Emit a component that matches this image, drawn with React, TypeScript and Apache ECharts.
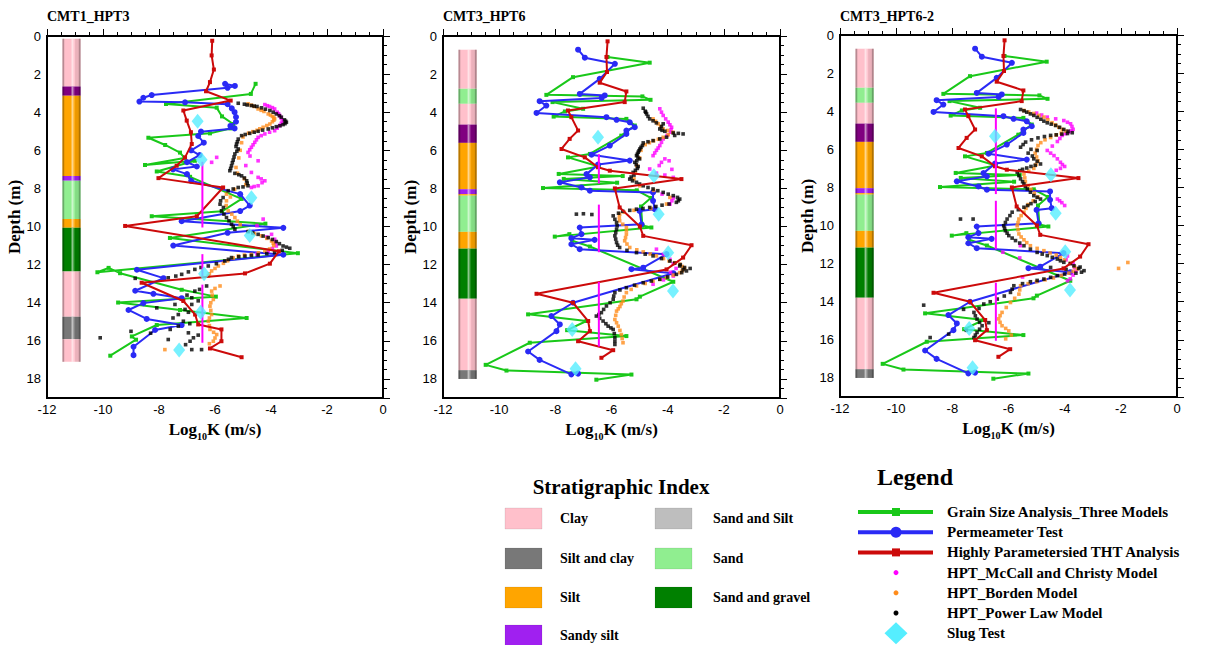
import React, { useEffect, useRef } from 'react';
import * as echarts from 'echarts';

// ---------- DATA ----------
const xTicks = [-12, -10, -8, -6, -4, -2, 0];
const depthTicks = [0, 2, 4, 6, 8, 10, 12, 14, 16, 18];
const panelTitles = ['CMT1_HPT3', 'CMT3_HPT6', 'CMT3_HPT6-2'];

// Stratigraphy: [top, bottom, layer]
const strat1 = [
  [0.14, 2.65, 'Clay'], [2.65, 3.13, 'Purple'], [3.13, 7.35, 'Silt'], [7.35, 7.6, 'Sandy silt'],
  [7.6, 9.6, 'Sand'], [9.6, 10.07, 'Silt'], [10.07, 12.36, 'Sand and gravel'], [12.36, 14.73, 'Clay'],
  [14.73, 15.91, 'Silt and clay'], [15.91, 17.1, 'Clay'],
];
const strat6 = [
  [0.72, 2.77, 'Clay'], [2.77, 3.56, 'Sand'], [3.56, 4.65, 'Clay'], [4.65, 5.61, 'Purple'],
  [5.61, 8.04, 'Silt'], [8.04, 8.3, 'Sandy silt'], [8.3, 8.38, 'Silt'], [8.38, 10.28, 'Sand'],
  [10.28, 11.16, 'Silt'], [11.16, 13.79, 'Sand and gravel'], [13.79, 17.54, 'Clay'], [17.54, 18.0, 'Silt and clay'],
];
const columnX = [-11.45, -10.8];

// Panel 1 (CMT1_HPT3)
const grain1 = [[-4.55,2.51],[-4.72,3.04],[-7.75,3.57],[-5.94,3.76],[-5.75,4.22],[-5.35,4.62],[-5.45,4.85],[-6.18,5.11],[-8.38,5.34],[-7.78,5.72],[-7.25,6.12],[-7.09,6.40],[-8.50,6.77],[-6.72,6.55],[-8.08,7.11],[-6.89,7.39],[-5.05,8.55],[-5.75,9.20],[-8.26,9.46],[-4.20,9.85],[-7.61,10.60],[-3.04,11.40],[-10.20,12.40],[-9.80,12.17],[-9.39,12.45],[-7.19,13.32],[-5.97,13.68],[-9.46,13.99],[-7.25,14.38],[-4.87,14.80],[-8.08,15.17],[-8.97,15.77],[-8.82,15.94],[-9.74,16.78]];
const perm1 = [[-5.64,2.51],[-5.29,2.62],[-5.55,2.72],[-8.26,3.10],[-8.56,3.24],[-8.70,3.44],[-7.07,3.48],[-5.55,3.58],[-5.40,3.80],[-5.30,4.00],[-5.25,4.25],[-5.25,4.50],[-5.45,4.72],[-5.30,4.85],[-6.50,5.02],[-6.60,5.25],[-6.40,5.60],[-6.85,6.00],[-6.55,6.25],[-7.00,6.62],[-6.65,6.85],[-7.50,7.00],[-7.00,7.25],[-6.85,7.60],[-5.10,8.30],[-4.76,8.90],[-5.10,9.19],[-7.19,9.72],[-3.56,10.07],[-5.55,10.33],[-7.49,11.00],[-3.56,11.48],[-8.79,12.27],[-7.84,12.71],[-8.85,13.37],[-8.20,13.53],[-7.19,13.76],[-8.56,14.02],[-9.09,14.38],[-8.44,14.85],[-7.19,15.17],[-8.14,15.43],[-8.91,16.31],[-8.91,16.75]];
const tht1 = [[-6.10,0.25],[-6.12,1.02],[-6.04,1.76],[-6.18,2.42],[-6.32,2.90],[-5.44,3.39],[-7.13,3.91],[-7.01,4.44],[-6.86,5.05],[-6.83,5.67],[-7.07,6.37],[-7.37,6.81],[-8.02,7.46],[-5.71,7.95],[-6.65,9.46],[-9.21,9.97],[-3.72,11.30],[-4.04,11.95],[-4.93,12.46],[-8.62,12.95],[-7.13,13.91],[-6.71,14.62],[-6.60,15.14],[-5.77,15.40],[-5.77,16.02],[-6.18,16.40],[-5.05,16.86]];
const mc1 = [[-4.22,3.60],[-4.13,3.66],[-4.05,3.70],[-3.95,3.76],[-3.87,3.83],[-3.78,4.00],[-3.73,4.08],[-3.69,4.18],[-3.64,4.30],[-3.60,4.45],[-3.63,4.58],[-3.69,4.70],[-3.78,4.84],[-3.87,4.97],[-4.05,5.05],[-4.22,5.14],[-4.35,5.23],[-4.46,5.32],[-4.52,5.45],[-4.58,5.58],[-4.64,5.71],[-4.70,5.84],[-4.76,5.97],[-4.82,6.11],[-4.75,6.30],[-5.94,6.37],[-6.12,6.63],[-4.46,6.55],[-4.90,6.80],[-4.70,7.16],[-4.46,7.42],[-4.35,7.50],[-4.22,7.60],[-4.32,7.70],[-4.46,7.86],[-4.60,7.90],[-4.70,7.95],[-4.28,9.61],[-4.50,9.95],[-3.98,10.41],[-4.15,10.55],[-3.87,10.67],[-3.84,10.85],[-3.81,11.02],[-3.95,11.15],[-4.10,11.30],[-4.50,11.45]];
const bd1 = [[-4.82,3.56],[-4.70,3.63],[-4.60,3.70],[-4.46,3.83],[-4.35,3.90],[-4.25,3.96],[-4.10,4.09],[-4.02,4.15],[-3.95,4.22],[-3.90,4.28],[-3.87,4.35],[-3.90,4.42],[-3.95,4.50],[-4.04,4.62],[-4.15,4.70],[-4.28,4.79],[-4.40,4.87],[-4.50,4.95],[-4.65,5.02],[-4.80,5.10],[-5.00,5.30],[-5.05,5.60],[-5.10,6.00],[-5.15,6.40],[-5.25,6.90],[-5.20,7.20],[-4.95,7.50],[-4.90,7.80],[-5.30,8.05],[-5.59,8.30],[-5.45,8.45],[-5.59,8.65],[-5.60,8.90],[-5.53,9.18],[-5.40,9.35],[-5.29,9.53],[-5.20,9.72],[-5.10,9.90],[-4.80,10.25],[-4.60,10.38],[-4.34,10.49],[-4.15,10.62],[-3.98,10.76],[-3.92,10.88],[-3.90,11.00],[-4.05,11.18],[-4.22,11.28],[-4.45,11.38],[-4.70,11.46],[-4.95,11.50],[-5.17,11.55],[-5.35,11.65],[-5.55,11.80],[-5.70,11.93],[-5.88,12.07],[-6.00,12.20],[-6.12,12.33],[-6.20,12.48],[-6.24,12.60],[-5.82,13.12],[-6.00,13.25],[-6.12,13.39],[-6.10,13.60],[-6.06,13.83],[-6.15,14.00],[-6.18,14.18],[-6.15,14.40],[-6.12,14.62],[-6.20,14.80],[-6.24,14.97],[-6.20,15.20],[-6.18,15.40],[-6.05,15.55],[-5.94,15.67],[-6.00,15.85],[-6.06,16.02],[-6.20,16.15],[-7.79,16.46]];
const pl1 = [[-5.17,3.53],[-4.95,3.58],[-4.85,3.62],[-4.70,3.65],[-4.60,3.68],[-4.50,3.70],[-4.34,3.77],[-4.20,3.84],[-4.04,3.91],[-3.92,4.00],[-3.81,4.09],[-3.70,4.18],[-3.63,4.26],[-3.52,4.40],[-3.48,4.47],[-3.45,4.53],[-3.50,4.60],[-3.57,4.65],[-3.68,4.71],[-3.81,4.76],[-3.95,4.82],[-4.10,4.88],[-4.30,4.94],[-4.46,5.00],[-4.60,5.05],[-4.76,5.11],[-4.92,5.17],[-5.05,5.23],[-5.17,5.41],[-5.20,5.55],[-5.23,5.67],[-5.25,5.80],[-5.17,5.93],[-5.22,6.05],[-5.29,6.19],[-5.32,6.35],[-5.35,6.51],[-5.38,6.65],[-5.41,6.81],[-5.44,6.95],[-5.47,7.07],[-5.29,7.21],[-5.15,7.28],[-5.05,7.34],[-4.95,7.45],[-4.87,7.60],[-4.85,7.72],[-4.82,7.86],[-5.00,7.92],[-5.17,7.95],[-5.35,8.03],[-5.53,8.12],[-5.71,8.48],[-5.80,8.65],[-5.82,8.83],[-5.70,9.00],[-5.77,9.18],[-5.68,9.35],[-5.59,9.53],[-5.50,9.70],[-5.41,9.88],[-5.35,10.00],[-5.29,10.14],[-4.82,10.27],[-4.65,10.33],[-4.46,10.41],[-4.28,10.50],[-4.10,10.58],[-3.95,10.68],[-3.81,10.79],[-3.70,10.90],[-3.57,11.02],[-3.45,11.08],[-3.33,11.14],[-3.60,11.25],[-3.87,11.37],[-4.15,11.42],[-4.46,11.49],[-4.70,11.52],[-4.93,11.55],[-5.15,11.58],[-5.41,11.63],[-5.52,11.72],[-5.65,11.81],[-5.95,11.95],[-6.24,12.07],[-6.50,12.15],[-6.72,12.25],[-6.95,12.38],[-7.19,12.51],[-7.40,12.60],[-7.67,12.69],[-8.85,12.72],[-6.30,13.12],[-6.55,13.30],[-6.72,13.39],[-7.00,13.60],[-6.83,13.74],[-6.60,13.90],[-6.83,14.09],[-7.43,14.09],[-8.08,14.27],[-7.07,14.35],[-6.95,14.50],[-7.31,14.62],[-7.50,14.80],[-7.13,14.97],[-6.90,15.10],[-7.31,15.23],[-7.60,15.40],[-9.00,15.50],[-6.95,15.58],[-8.30,15.60],[-6.60,15.70],[-6.77,15.84],[-7.67,15.93],[-10.10,15.84],[-6.89,16.02],[-7.05,16.20],[-6.83,16.46],[-6.48,16.46]];
const slug1 = [[-6.62,4.48],[-6.48,6.50],[-4.70,8.49],[-4.76,10.47],[-6.39,12.48],[-6.51,14.50],[-7.28,16.48]];
const floorK = -6.45;
const floor1 = [[6.6, 10.05], [11.45, 12.6], [13.05, 16.1]];

// Panels 2 and 3 (CMT3_HPT6, CMT3_HPT6-2): shared core-based results
const grain6 = [[-6.14,1.10],[-4.64,1.40],[-7.37,2.16],[-8.32,3.09],[-4.90,3.17],[-4.61,3.35],[-8.10,3.47],[-7.01,3.82],[-7.66,3.96],[-8.06,4.23],[-5.47,4.35],[-5.17,4.70],[-5.65,5.23],[-6.77,6.19],[-7.55,6.37],[-6.45,6.85],[-7.88,7.24],[-5.60,7.35],[-7.70,7.50],[-5.80,7.70],[-8.44,7.98],[-5.10,8.10],[-4.60,8.50],[-4.95,8.95],[-4.90,9.95],[-4.58,10.05],[-8.02,10.53],[-7.50,10.40],[-7.40,10.75],[-6.77,11.05],[-3.80,12.90],[-4.99,13.68],[-5.11,13.82],[-8.97,14.61],[-6.89,14.96],[-7.58,15.44],[-5.47,15.75],[-8.91,16.10],[-10.48,17.26],[-9.74,17.56],[-5.29,17.77],[-6.54,18.04]];
const perm6 = [[-7.19,0.72],[-6.95,1.14],[-5.88,1.46],[-6.42,2.25],[-7.13,3.04],[-6.24,3.12],[-6.35,3.25],[-8.56,3.42],[-8.32,3.65],[-8.67,4.04],[-6.18,4.26],[-5.82,4.40],[-5.35,4.53],[-5.17,4.79],[-5.47,4.96],[-5.47,5.14],[-6.06,5.75],[-6.71,6.23],[-5.35,6.54],[-6.48,6.75],[-6.89,7.25],[-6.77,7.42],[-7.84,7.68],[-7.07,7.95],[-6.77,8.12],[-4.52,8.21],[-4.52,8.65],[-4.46,9.09],[-5.00,9.18],[-4.93,9.88],[-7.13,10.05],[-7.07,10.40],[-7.43,10.61],[-6.60,10.70],[-7.43,10.93],[-7.13,11.19],[-4.04,11.45],[-4.87,12.16],[-5.29,12.24],[-3.80,12.45],[-7.37,14.00],[-8.14,14.70],[-7.84,15.14],[-7.96,15.49],[-8.97,16.56],[-8.56,17.00],[-7.43,17.76],[-7.19,17.72]];
const tht6 = [[-6.14,0.28],[-6.18,1.10],[-6.16,1.89],[-6.42,2.45],[-5.47,2.91],[-5.53,3.47],[-7.55,3.91],[-7.43,4.26],[-7.19,4.96],[-7.49,5.40],[-7.78,5.93],[-6.95,6.37],[-6.48,6.89],[-6.06,7.07],[-3.51,7.51],[-5.88,8.00],[-5.71,9.00],[-4.99,10.00],[-4.87,10.49],[-3.15,10.98],[-3.45,11.63],[-4.04,12.25],[-8.67,13.53],[-7.37,14.00],[-6.83,14.96],[-6.77,15.49],[-7.19,16.02],[-5.94,16.49],[-6.36,16.89]];
const slug6 = [[-6.48,5.32],[-4.49,7.33],[-4.32,9.35],[-3.98,11.37],[-3.81,13.39],[-7.40,15.40],[-7.28,17.47]];

// Panel 2 HPT
const mc6 = [[-4.28,3.82],[-4.22,4.00],[-4.16,4.17],[-4.07,4.35],[-3.98,4.52],[-3.92,4.66],[-3.86,4.79],[-3.88,4.92],[-3.90,5.05],[-4.02,5.22],[-4.16,5.40],[-4.22,5.58],[-4.28,5.75],[-4.34,5.88],[-4.40,6.00],[-4.46,6.14],[-4.52,6.28],[-4.10,6.45],[-4.22,6.63],[-4.30,6.80],[-4.64,6.98],[-3.95,6.55],[-3.85,7.00],[-4.10,7.30],[-3.80,7.42],[-4.40,7.20],[-4.20,8.30],[-3.80,8.50],[-3.85,8.65],[-3.92,8.82],[-4.40,11.19],[-4.15,11.45],[-3.92,11.72],[-3.80,11.95],[-3.70,12.20],[-3.90,12.40],[-3.80,12.60],[-4.15,12.80],[-4.52,13.03]];
const bd6 = [[-4.52,4.35],[-4.43,4.48],[-4.34,4.61],[-4.25,4.75],[-4.16,4.88],[-4.00,4.96],[-3.81,5.05],[-3.98,5.18],[-4.16,5.32],[-4.33,5.42],[-4.50,5.50],[-4.65,5.60],[-4.80,5.70],[-4.95,6.00],[-5.00,6.40],[-5.10,6.80],[-5.15,7.20],[-5.20,7.50],[-4.99,7.86],[-4.50,8.10],[-3.92,8.47],[-4.04,8.82],[-4.60,9.05],[-5.20,9.15],[-5.55,9.25],[-5.71,9.35],[-5.72,9.52],[-5.71,9.70],[-5.60,9.88],[-5.47,10.05],[-5.47,10.22],[-5.47,10.40],[-5.50,10.58],[-5.53,10.75],[-5.45,10.92],[-5.35,11.10],[-5.10,11.22],[-4.87,11.33],[-4.62,11.44],[-4.40,11.54],[-4.15,11.68],[-3.95,11.80],[-3.75,11.90],[-3.57,11.98],[-3.48,12.10],[-3.40,12.20],[-3.48,12.32],[-3.57,12.42],[-3.80,12.55],[-4.04,12.68],[-4.28,12.77],[-4.52,12.86],[-4.80,12.99],[-5.11,13.12],[-5.30,13.30],[-5.47,13.47],[-5.55,13.70],[-5.59,13.91],[-5.65,14.05],[-5.70,14.20],[-5.76,14.32],[-5.82,14.44],[-5.85,14.66],[-5.88,14.88],[-5.82,15.05],[-5.76,15.23],[-5.70,15.45],[-5.65,15.67],[-5.62,15.88],[-5.59,16.10]];
const pl6 = [[-4.87,3.79],[-4.80,3.95],[-4.78,4.00],[-4.75,4.09],[-4.70,4.22],[-4.64,4.35],[-4.52,4.45],[-4.40,4.56],[-4.16,4.61],[-4.22,4.75],[-4.28,4.88],[-4.20,4.95],[-4.10,5.00],[-3.80,5.09],[-3.62,5.11],[-3.45,5.14],[-3.75,5.22],[-4.04,5.31],[-4.28,5.40],[-4.52,5.49],[-4.70,5.55],[-4.87,5.61],[-4.90,5.75],[-4.95,5.84],[-4.99,5.93],[-5.02,6.02],[-5.05,6.10],[-5.08,6.20],[-5.11,6.28],[-5.06,6.38],[-5.00,6.45],[-5.10,6.55],[-5.17,6.63],[-5.12,6.75],[-5.05,6.85],[-5.08,6.95],[-5.15,7.05],[-5.23,7.16],[-5.20,7.30],[-5.30,7.40],[-5.35,7.51],[-5.25,7.60],[-5.11,7.68],[-5.00,7.77],[-4.87,7.86],[-4.70,7.95],[-4.52,8.03],[-4.35,8.12],[-4.16,8.21],[-3.98,8.30],[-3.80,8.38],[-3.65,8.47],[-3.57,8.56],[-3.62,8.65],[-3.69,8.73],[-3.95,8.82],[-4.20,8.88],[-4.42,8.95],[-4.64,9.00],[-4.88,9.05],[-5.11,9.09],[-5.35,9.15],[-5.60,9.20],[-5.75,9.30],[-7.25,9.35],[-7.00,9.33],[-6.70,9.37],[-5.94,9.44],[-5.88,9.62],[-5.82,9.79],[-5.80,9.96],[-5.82,10.14],[-5.85,10.32],[-5.88,10.49],[-5.85,10.66],[-5.82,10.84],[-5.78,10.98],[-5.71,11.10],[-5.45,11.25],[-5.11,11.37],[-4.80,11.45],[-4.52,11.54],[-4.22,11.68],[-3.92,11.81],[-3.75,11.92],[-3.55,12.00],[-3.57,12.07],[-3.40,12.15],[-3.20,12.20],[-3.45,12.26],[-3.33,12.33],[-3.50,12.42],[-3.69,12.51],[-4.00,12.65],[-4.28,12.77],[-4.58,12.86],[-4.87,12.95],[-5.18,13.08],[-5.47,13.21],[-5.70,13.33],[-5.88,13.47],[-5.92,13.65],[-5.94,13.82],[-6.05,14.00],[-6.18,14.17],[-6.28,14.35],[-6.36,14.52],[-6.45,14.62],[-6.54,14.70],[-6.42,14.82],[-6.30,14.96],[-6.20,15.10],[-6.12,15.23],[-6.02,15.32],[-5.94,15.40],[-5.90,15.62],[-5.88,15.84],[-5.88,16.02],[-5.88,16.19]];
const floor6 = [[6.2, 7.75], [8.85, 11.35], [12.9, 16.3]];

// Panel 3 HPT
const mc6b = [[-5.00,4.10],[-4.82,4.20],[-4.62,4.31],[-4.32,4.40],[-4.03,4.49],[-3.90,4.58],[-3.79,4.66],[-3.74,4.80],[-3.70,4.95],[-3.77,5.02],[-3.85,5.10],[-3.97,5.18],[-4.09,5.27],[-4.17,5.43],[-4.26,5.59],[-4.44,5.83],[-4.62,6.06],[-4.50,6.20],[-4.38,6.33],[-4.26,6.50],[-4.15,6.68],[-4.08,6.80],[-4.00,6.90],[-4.15,7.00],[-4.30,7.10],[-4.26,8.61],[-4.18,8.70],[-4.10,8.80],[-4.00,8.95],[-5.58,11.06],[-6.20,11.40],[-3.90,11.60],[-3.95,11.80],[-3.70,12.00],[-3.65,12.20],[-3.60,12.40],[-3.70,12.60],[-3.80,12.80],[-3.90,12.90],[-5.60,11.70],[-5.50,12.70]];
const bd6b = [[-5.45,3.96],[-5.28,4.04],[-5.10,4.12],[-4.92,4.22],[-4.74,4.31],[-4.60,4.45],[-4.45,4.60],[-4.33,4.72],[-4.21,4.84],[-4.08,4.95],[-3.95,5.05],[-4.12,5.15],[-4.30,5.25],[-4.50,5.38],[-4.70,5.50],[-4.85,5.65],[-4.95,5.80],[-5.00,6.00],[-5.05,6.20],[-5.00,6.40],[-4.95,6.60],[-5.02,6.80],[-5.10,7.00],[-5.28,7.15],[-5.45,7.30],[-5.42,7.50],[-5.40,7.70],[-5.30,7.90],[-5.20,8.10],[-5.08,8.30],[-4.95,8.50],[-5.12,8.70],[-5.30,8.90],[-5.38,9.10],[-5.45,9.30],[-5.55,9.48],[-5.63,9.66],[-5.66,9.84],[-5.69,10.01],[-5.66,10.22],[-5.63,10.44],[-5.55,10.60],[-5.45,10.75],[-5.35,10.90],[-5.22,11.06],[-4.98,11.20],[-4.74,11.32],[-4.52,11.44],[-4.30,11.55],[-4.15,11.68],[-4.00,11.80],[-3.80,11.98],[-3.65,12.15],[-3.55,12.28],[-3.70,12.40],[-3.85,12.50],[-4.12,12.62],[-4.40,12.75],[-4.70,12.85],[-5.00,12.95],[-5.30,13.05],[-5.57,13.16],[-5.60,13.38],[-5.63,13.60],[-5.78,13.82],[-5.93,14.04],[-6.08,14.30],[-6.23,14.56],[-6.30,14.73],[-6.35,14.90],[-6.30,15.08],[-6.23,15.26],[-6.10,15.40],[-5.99,15.53],[-5.90,15.75],[-6.10,15.95],[-2.08,12.25],[-1.75,11.94]];
const pl6b = [[-5.57,3.91],[-5.45,3.98],[-5.35,4.05],[-5.22,4.14],[-5.10,4.22],[-4.98,4.32],[-4.85,4.42],[-4.74,4.52],[-4.62,4.61],[-4.48,4.68],[-4.32,4.75],[-4.18,4.85],[-4.03,4.96],[-3.88,5.05],[-3.73,5.13],[-3.90,5.17],[-4.10,5.20],[-4.30,5.24],[-4.50,5.27],[-4.72,5.33],[-4.95,5.40],[-5.18,5.50],[-5.39,5.62],[-5.48,5.75],[-5.57,5.89],[-5.20,6.00],[-4.98,6.06],[-5.30,6.20],[-5.15,6.35],[-5.10,6.50],[-4.98,6.63],[-4.86,6.77],[-5.05,6.84],[-5.20,6.90],[-5.35,6.98],[-5.50,7.05],[-5.60,7.12],[-5.69,7.20],[-5.63,7.38],[-5.57,7.55],[-5.50,7.70],[-5.45,7.82],[-5.40,7.95],[-5.33,8.08],[-5.22,8.25],[-5.10,8.43],[-4.98,8.52],[-4.86,8.61],[-5.05,8.74],[-5.20,8.85],[-5.32,8.95],[-5.45,9.04],[-5.65,9.17],[-5.87,9.30],[-5.95,9.48],[-6.05,9.66],[-6.11,9.84],[-6.17,10.01],[-6.14,10.14],[-6.11,10.27],[-6.05,10.40],[-5.99,10.53],[-5.87,10.66],[-5.75,10.79],[-5.60,10.92],[-5.45,11.06],[-5.22,11.24],[-4.98,11.41],[-4.80,11.50],[-4.62,11.58],[-4.44,11.67],[-4.26,11.76],[-4.15,11.85],[-4.03,11.93],[-3.80,12.00],[-3.67,12.11],[-3.45,12.18],[-4.50,12.20],[-3.50,12.25],[-3.95,12.30],[-3.31,12.37],[-3.40,12.45],[-3.60,12.50],[-4.00,12.55],[-4.26,12.63],[-4.50,12.72],[-4.74,12.81],[-4.98,12.88],[-5.22,12.95],[-5.50,13.05],[-5.81,13.16],[-5.87,13.34],[-5.93,13.51],[-6.15,13.70],[-6.40,13.86],[-6.65,14.00],[-6.88,14.12],[-7.05,14.35],[-7.60,14.40],[-7.23,14.56],[-7.18,14.74],[-7.12,14.91],[-7.03,15.08],[-6.70,15.10],[-6.94,15.26],[-7.03,15.44],[-7.50,15.50],[-7.12,15.61],[-7.18,15.75],[-7.23,15.88],[-9.02,14.18],[-7.71,9.66],[-7.26,9.66],[-8.13,15.70],[-8.79,15.88]];
const floor6b = [[3.85, 8.35], [8.7, 11.25], [13.0, 16.05]];

// Legends
const layerNames = ['Clay', 'Silt and clay', 'Silt', 'Sandy silt', 'Sand and Silt', 'Sand', 'Sand and gravel', 'Purple'];
const layerColors: Record<string, string> = {
  'Clay': '#ffc0cb', 'Silt and clay': '#787878', 'Silt': '#ffa500', 'Sandy silt': '#a020f0',
  'Sand and Silt': '#bebebe', 'Sand': '#90ee90', 'Sand and gravel': '#008000', 'Purple': '#800080',
};
const stratLegendCol1 = ['Clay', 'Silt and clay', 'Silt', 'Sandy silt'];
const stratLegendCol2 = ['Sand and Silt', 'Sand', 'Sand and gravel'];
const methodNames = [
  'Grain Size Analysis_Three Models', 'Permeameter Test', 'Highly Parametersied THT Analysis',
  'HPT_McCall and Christy Model', 'HPT_Borden Model', 'HPT_Power Law Model', 'Slug Test',
];

// ---------- STYLE ----------
const C = {
  green: '#19c819', blue: '#2a2af5', red: '#cc0a0a', magenta: '#ff00ff',
  orange: '#ff8c1a', black: '#000000', cyan: '#55eeff',
};
const SERIF = '"Liberation Serif", "Times New Roman", serif';
const SANS = '"Liberation Sans", Arial, sans-serif';

const panels = [
  { strat: strat1, grain: grain1, perm: perm1, tht: tht1, mc: mc1, bd: bd1, pl: pl1, slug: slug1, floor: floor1 },
  { strat: strat6, grain: grain6, perm: perm6, tht: tht6, mc: mc6, bd: bd6, pl: pl6, slug: slug6, floor: floor6 },
  { strat: strat6, grain: grain6, perm: perm6, tht: tht6, mc: mc6b, bd: bd6b, pl: pl6b, slug: slug6, floor: floor6b },
];
const grids = [
  { left: 47, top: 36, width: 336, height: 362 },
  { left: 443, top: 36, width: 337, height: 362 },
  { left: 840, top: 35, width: 337, height: 362 },
];

// cylinder shading bands across the column width: [from, to, fill]
const shadeBands: [number, number, string][] = [
  [0, 0.1, 'rgba(0,0,0,0.28)'],
  [0.5, 0.6, 'rgba(255,255,255,0.55)'],
  [0.6, 0.66, 'rgba(255,255,255,0.25)'],
  [0.7, 1, 'rgba(0,0,0,0.08)'],
  [0.9, 1, 'rgba(0,0,0,0.25)'],
];

function renderColumn(params: any, api: any) {
  const p0 = api.coord([api.value(0), api.value(2)]);
  const p1 = api.coord([api.value(1), api.value(3)]);
  const w = p1[0] - p0[0];
  const h = p1[1] - p0[1];
  const color = layerColors[layerNames[api.value(4)]];
  const children: any[] = [{ type: 'rect', shape: { x: p0[0], y: p0[1], width: w, height: h }, style: { fill: color } }];
  shadeBands.forEach((b) => {
    children.push({
      type: 'rect',
      shape: { x: p0[0] + b[0] * w, y: p0[1], width: (b[1] - b[0]) * w, height: h },
      style: { fill: b[2] },
    });
  });
  return { type: 'group', children };
}

function buildOption() {
  const series: any[] = [];
  const xAxes: any[] = [];
  const yAxes: any[] = [];
  panels.forEach((p, i) => {
    const axisCommon = {
      gridIndex: i,
      axisLine: { show: true, lineStyle: { color: '#000', width: 2 } },
      axisTick: { show: true, inside: true, length: 7, lineStyle: { color: '#000', width: 1 } },
      minorTick: { show: true, splitNumber: 4, length: 4, lineStyle: { color: '#000', width: 1 } },
      splitLine: { show: false },
      minorSplitLine: { show: false },
    };
    xAxes.push({
      ...axisCommon, type: 'value', min: xTicks[0], max: xTicks[xTicks.length - 1], interval: 2,
      axisLabel: { color: '#000', fontFamily: SANS, fontSize: 13, margin: 5 },
      name: '{a|Log}{b|10}{a|K (m/s)}', nameLocation: 'middle', nameGap: 18,
      nameTextStyle: {
        rich: {
          a: { fontFamily: SERIF, fontWeight: 'bold', fontSize: 17, color: '#000', verticalAlign: 'bottom', padding: [0, 0, 4, 0] },
          b: { fontFamily: SERIF, fontWeight: 'bold', fontSize: 10, color: '#000', verticalAlign: 'bottom' },
        },
      },
    });
    yAxes.push({
      ...axisCommon, type: 'value', inverse: true, min: 0, max: 19, interval: 2,
      axisLabel: {
        color: '#000', fontFamily: SANS, fontSize: 13, margin: 6,
        formatter: (v: number) => (depthTicks.indexOf(v) >= 0 ? String(v) : ''),
      },
      name: 'Depth (m)', nameLocation: 'middle', nameGap: 23, nameRotate: 90,
      nameTextStyle: { fontFamily: SERIF, fontWeight: 'bold', fontSize: 17, color: '#000' },
    });
    const ax = { xAxisIndex: i, yAxisIndex: i };
    series.push({
      type: 'custom', ...ax, renderItem: renderColumn, encode: { x: [0, 1], y: [2, 3] }, z: 1,
      data: p.strat.map((s: any) => [columnX[0], columnX[1], s[0], s[1], layerNames.indexOf(s[2])]),
    });
    const mkLine = (name: string, data: number[][], color: string, symbol: string, size: number, z: number) => ({
      type: 'line', name, ...ax, data, symbol, symbolSize: size, showSymbol: true, showAllSymbol: true,
      lineStyle: { color, width: 2 }, itemStyle: { color }, z,
    });
    const mkDots = (name: string, data: number[][], color: string, z: number) => ({
      type: 'scatter', name, ...ax, data, symbol: 'rect', symbolSize: 3.6, itemStyle: { color }, z,
    });
    series.push(mkLine(methodNames[0], p.grain, C.green, 'rect', 4, 2));
    series.push(mkLine(methodNames[1], p.perm, C.blue, 'circle', 6, 3));
    series.push(mkDots(methodNames[3], p.mc, C.magenta, 4));
    series.push(mkDots(methodNames[4], p.bd, C.orange, 5));
    series.push(mkDots(methodNames[5], p.pl, C.black, 6));
    series.push(mkLine(methodNames[2], p.tht, C.red, 'rect', 4, 7));
    p.floor.forEach((seg: number[]) => {
      series.push({
        type: 'line', ...ax, data: [[floorK, seg[0]], [floorK, seg[1]]], symbol: 'none',
        lineStyle: { color: C.magenta, width: 2 }, z: 8,
      });
    });
    series.push({
      type: 'scatter', name: methodNames[6], ...ax, data: p.slug, symbol: 'diamond', symbolSize: [12, 15],
      itemStyle: { color: C.cyan }, z: 9,
    });
  });

  // Legends drawn as graphics
  const g: any[] = [];
  g.push({ type: 'text', x: 621, y: 487, style: { text: 'Stratigraphic Index', font: `bold 21px ${SERIF}`, fill: '#000', align: 'center', verticalAlign: 'middle' } });
  const rowsY = [518, 558, 597, 635];
  stratLegendCol1.forEach((n, k) => {
    g.push({ type: 'rect', shape: { x: 505, y: rowsY[k] - 10, width: 37, height: 21 }, style: { fill: layerColors[n], stroke: 'rgba(0,0,0,0.08)', lineWidth: 1 } });
    g.push({ type: 'text', x: 560, y: rowsY[k], style: { text: n, font: `bold 14px ${SERIF}`, fill: '#000', verticalAlign: 'middle' } });
  });
  stratLegendCol2.forEach((n, k) => {
    g.push({ type: 'rect', shape: { x: 655, y: rowsY[k] - 10, width: 37, height: 21 }, style: { fill: layerColors[n], stroke: 'rgba(0,0,0,0.08)', lineWidth: 1 } });
    g.push({ type: 'text', x: 713, y: rowsY[k], style: { text: n, font: `bold 14px ${SERIF}`, fill: '#000', verticalAlign: 'middle' } });
  });
  g.push({ type: 'text', x: 915, y: 477, style: { text: 'Legend', font: `bold 24px ${SERIF}`, fill: '#000', align: 'center', verticalAlign: 'middle' } });
  const iconX = 896;
  methodNames.forEach((n, k) => {
    const y = 512 + k * 20.2;
    if (k < 3) {
      const col = [C.green, C.blue, C.red][k];
      g.push({ type: 'line', shape: { x1: 858, y1: y, x2: 933, y2: y }, style: { stroke: col, lineWidth: 4 } });
      if (k === 1) g.push({ type: 'circle', shape: { cx: iconX, cy: y, r: 5.5 }, style: { fill: col } });
      else g.push({ type: 'rect', shape: { x: iconX - 4, y: y - 4, width: 8, height: 8 }, style: { fill: col } });
    } else if (k < 6) {
      const col = [C.magenta, C.orange, C.black][k - 3];
      g.push({ type: 'circle', shape: { cx: iconX, cy: y, r: 2.5 }, style: { fill: col } });
    } else {
      g.push({ type: 'polygon', shape: { points: [[iconX, y - 11], [iconX + 11.5, y], [iconX, y + 11], [iconX - 11.5, y]] }, style: { fill: C.cyan } });
    }
    g.push({ type: 'text', x: 947, y, style: { text: n, font: `bold 15px ${SERIF}`, fill: '#000', verticalAlign: 'middle' } });
  });

  return {
    animation: false,
    backgroundColor: '#ffffff',
    title: panelTitles.map((t, i) => ({
      text: t, left: grids[i].left, top: 9, padding: 0,
      textStyle: { fontFamily: SERIF, fontWeight: 'bold', fontSize: 14, color: '#000' },
    })),
    grid: grids.map((gr) => ({ ...gr, show: true, borderColor: '#000', borderWidth: 2, backgroundColor: 'transparent', containLabel: false })),
    xAxis: xAxes,
    yAxis: yAxes,
    series,
    graphic: g,
  };
}

export default function App() {
  const ref = useRef<HTMLDivElement>(null);
  useEffect(() => {
    const chart = echarts.init(ref.current as HTMLDivElement, null, { renderer: 'svg' });
    chart.setOption(buildOption() as any);
    return () => chart.dispose();
  }, []);
  return (
    <div
      ref={ref}
      style={{ position: 'fixed', left: 0, top: 0, width: 1214, height: 645, background: '#fff' }}
    />
  );
}
